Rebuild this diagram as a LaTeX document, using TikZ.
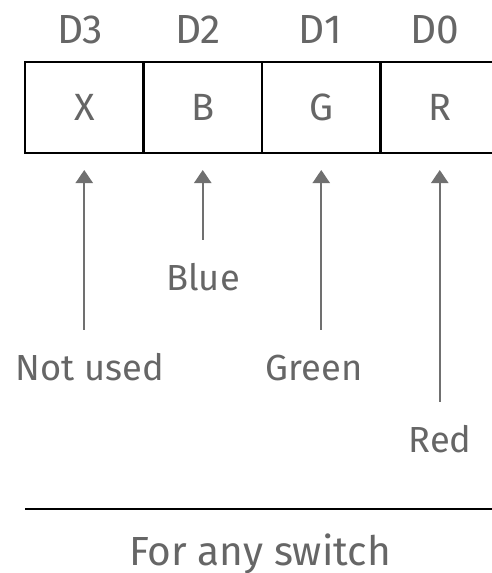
\documentclass[tikz,border=0pt]{standalone}
\usepackage{fontspec}
\setmainfont{Fira Sans}
\usetikzlibrary{arrows.meta}

\definecolor{txtgray}{HTML}{666666}
\definecolor{arrgray}{HTML}{707070}

\begin{document}
\begin{tikzpicture}[x=0.25mm, y=-0.25mm,
    cell/.style={draw=black, line width=2pt, minimum width=29.6mm, minimum height=22.75mm,
      inner sep=0pt, outer sep=0pt, text=txtgray,
      font=\fontsize{27}{32}\selectfont, text height=18.6pt, text depth=0pt},
    head/.style={inner sep=0pt, text=txtgray, font=\fontsize{28.9}{34}\selectfont,
      text height=19.9pt, text depth=0pt},
    lbl/.style={inner sep=0pt, text=txtgray, font=\fontsize{25.8}{31}\selectfont,
      text height=17.8pt, text depth=0pt},
    arr/.style={draw=arrgray, line width=1.5pt, -{Triangle[width=4.25mm, length=3.25mm]},
      shorten >=4.25mm, shorten <=6.25mm}]
  \useasboundingbox (0,0) rectangle (492,573);

  % the four bit cells
  \node[cell] (cX) at (84.25,107.5)  {X};
  \node[cell] (cB) at (202.75,107.5) {B};
  \node[cell] (cG) at (321.25,107.5) {G};
  \node[cell] (cR) at (439.75,107.5) {R};

  % bit numbers
  \node[head] (d3) at (80,30)  {D3};
  \node[head] (d2) at (198,30) {D2};
  \node[head] (d1) at (320,30) {D1};
  \node[head] (d0) at (435,30) {D0};

  % meaning of each bit
  \node[lbl] (nu)    at (90,367.5)  {Not used};
  \node[lbl] (blue)  at (203,277.5) {Blue};
  \node[lbl] (green) at (314,367.5) {Green};
  \node[lbl] (red)   at (440,439.5) {Red};

  \draw[arr] (cX.south |- nu.north)    -- (cX.south);
  \draw[arr] (cB.south |- blue.north)  -- (cB.south);
  \draw[arr] (cG.south |- green.north) -- (cG.south);
  \draw[arr] (cR.south |- red.north)   -- (cR.south);

  % footer
  \coordinate (ruleL) at (25,509);
  \coordinate (ruleR) at (492,509);
  \draw[line width=2pt] (ruleL) -- (ruleR);
  \node[inner sep=0pt, text=txtgray, font=\fontsize{28.9}{34}\selectfont,
    text height=19.9pt, text depth=0pt] (foot) at (260,552) {For any switch};
\end{tikzpicture}
\end{document}
